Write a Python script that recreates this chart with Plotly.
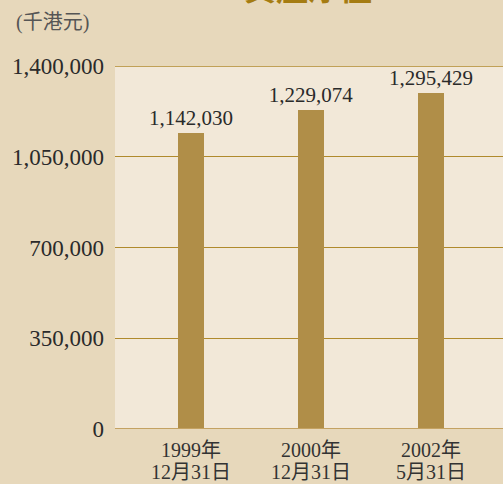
import plotly.graph_objects as go

years = ["1999年", "2000年", "2002年"]
dates = ["12月31日", "12月31日", "5月31日"]
values = [1142030, 1229074, 1295429]
value_labels = ["1,142,030", "1,229,074", "1,295,429"]
y_ticks = [0, 350000, 700000, 1050000, 1400000]
y_tick_labels = ["0", "350,000", "700,000", "1,050,000", "1,400,000"]

W, H = 503, 484
ml, mr, mt, mb = 115, 0, 66, 55
ph = H - mt - mb
pw = W - ml - mr

FONT = "Liberation Serif, Times New Roman, Noto Sans CJK TC, serif"
xs = list(range(len(values)))

fig = go.Figure()
fig.add_trace(go.Bar(
    x=xs, y=values, width=0.21,
    marker=dict(color="#B08E48", line=dict(width=0)),
    text=value_labels, textposition="outside", cliponaxis=False,
    constraintext="none",
    textfont=dict(family=FONT, size=21, color="#2a2a2a"),
    hoverinfo="skip",
))

fig.update_layout(
    width=W, height=H,
    margin=dict(l=ml, r=mr, t=mt, b=mb, pad=0, autoexpand=False),
    paper_bgcolor="#E7D8BB",
    plot_bgcolor="#F2E8D8",
    showlegend=False,
    bargap=0,
    xaxis=dict(
        range=[-0.633, 2.6], tickmode="array", tickvals=xs,
        ticktext=["" for _ in xs], showgrid=False, zeroline=False,
        showline=False, ticks="", automargin=False,
        fixedrange=True,
    ),
    yaxis=dict(
        range=[0, 1400000], tickmode="array", tickvals=y_ticks,
        ticktext=y_tick_labels, showgrid=True, gridcolor="#B08A2C",
        gridwidth=1, zeroline=False, showline=False, ticks="",
        ticklabelstandoff=10, automargin=False,
        tickfont=dict(family=FONT, size=23, color="#2a2a2a"),
        fixedrange=True,
    ),
)

# category labels (two lines)
for xi, yr, dt in zip(xs, years, dates):
    fig.add_annotation(text=yr, xref="x", yref="paper", x=xi,
                       y=-(450 - (H - mb)) / ph, xanchor="center", yanchor="middle",
                       showarrow=False,
                       font=dict(family=FONT, size=20, color="#333333"))
    fig.add_annotation(text=dt, xref="x", yref="paper", x=xi,
                       y=-(472 - (H - mb)) / ph, xanchor="center", yanchor="middle",
                       showarrow=False,
                       font=dict(family=FONT, size=20, color="#333333"))

# top line at range max
fig.add_shape(type="line", xref="paper", yref="y", x0=0, x1=1,
              y0=y_ticks[-1], y1=y_ticks[-1],
              line=dict(color="#B08A2C", width=1.5), layer="above")
# baseline at zero
fig.add_shape(type="line", xref="paper", yref="y", x0=0, x1=1,
              y0=y_ticks[0], y1=y_ticks[0],
              line=dict(color="#C4A262", width=2), layer="above")

# unit label
fig.add_annotation(text="(千港元)", xref="paper", yref="paper",
                   x=(14 - ml) / pw, y=1 + (mt - 22) / ph,
                   xanchor="left", yanchor="middle", showarrow=False,
                   font=dict(family=FONT, size=20, color="#555555"))

# title, cut off at the top edge
fig.add_annotation(text="<b>資產淨值</b>", xref="paper", yref="paper",
                   x=(308 - ml) / pw, y=1 + (mt - 9) / ph,
                   xanchor="center", yanchor="bottom", showarrow=False,
                   font=dict(family=FONT, size=32, color="#A57C12"))

fig.write_html(
    "out.html",
    config={"displayModeBar": False, "staticPlot": True},
    post_script="document.body.style.margin='0';document.body.style.padding='0';document.body.style.overflow='hidden';",
)
